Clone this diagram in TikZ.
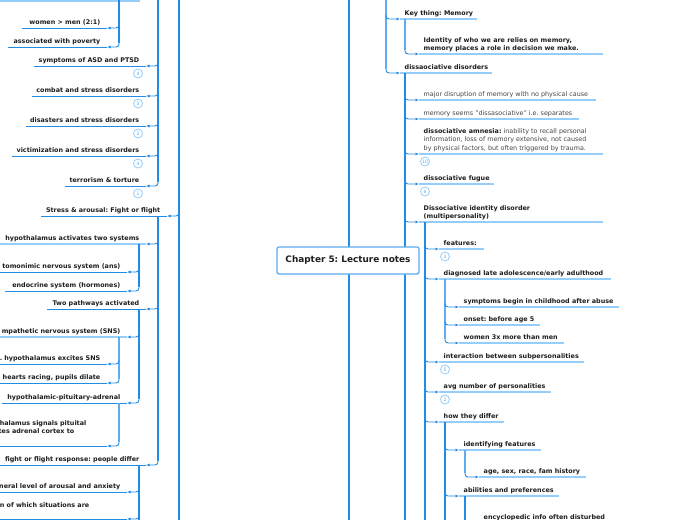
\documentclass[tikz,border=0pt]{standalone}
\usepackage{fontspec}
\setmainfont{DejaVu Sans}
\frenchspacing
\usetikzlibrary{arrows.meta}
\definecolor{bl}{RGB}{33,140,232}
\definecolor{lb}{RGB}{150,205,250}
\definecolor{mb}{RGB}{95,172,240}
\definecolor{tx}{RGB}{30,30,30}
\definecolor{gt}{RGB}{70,70,70}
\tikzset{
 lt/.style={font=\fontsize{6.4}{8.2}\selectfont\bfseries, text=tx, inner sep=0pt},
 gtext/.style={font=\fontsize{6.4}{8.2}\selectfont, text=gt, inner sep=0pt},
 ul/.style={draw=bl, line width=1pt},
 ulr/.style={draw=lb, line width=1.2pt},
 ulthick/.style={draw=lb, line width=2.4pt},
 trunk/.style={draw=bl, line width=1.6pt},
 ltrunk/.style={draw=mb, line width=1.3pt},
 conn/.style={draw=bl, line width=0.9pt, rounded corners=3pt, -{Latex[length=3.5pt,width=3pt]}},
 badge/.style={circle, draw=lb, line width=0.8pt, minimum size=9pt, inner sep=0pt, text=mb, font=\fontsize{4.6}{4.6}\selectfont},
 rootbox/.style={draw=mb, line width=1.3pt, fill=white, rounded corners=2pt, minimum width=142pt, minimum height=27pt, inner sep=0pt, font=\fontsize{8.9}{10}\selectfont\bfseries, text=tx},
}
% name, trunk x, underline y, underline left end, underline style, text style, baseline y, text
\newcommand{\Lkid}[8]{%
  \coordinate (#1-t) at (#2,#3-4);
  \coordinate (#1-a) at (#2-12,#3);
  \coordinate (#1-u) at (#4,#3);
  \draw[#5] (#1-a) -- (#1-u);
  \draw[conn] (#1-t) |- (#1-a);
  \node[#6, anchor=base east] (#1) at (#2-18.5,#7) {#8};
}
% name, trunk x, underline y, underline right end, underline style, text style, baseline y, text
\newcommand{\Rkid}[8]{%
  \coordinate (#1-t) at (#2,#3-4);
  \coordinate (#1-a) at (#2+14,#3);
  \coordinate (#1-u) at (#4,#3);
  \draw[#5] (#1-a) -- (#1-u);
  \draw[conn] (#1-t) |- (#1-a);
  \node[#6, anchor=base west] (#1) at (#2+18.5,#7) {#8};
}
\begin{document}
\begin{tikzpicture}[x=1pt,y=-1pt]
\useasboundingbox (0,0) rectangle (697,520);
\clip (0,0) rectangle (697,520);
\fill[white] (0,0) rectangle (697,520);

% main trunks
\coordinate (TL0) at (179,-3); \coordinate (TL1) at (179,523);
\draw[trunk] (TL0) -- (TL1);
\coordinate (TC0) at (349,-3); \coordinate (TC1) at (349,523);
\draw[trunk] (TC0) -- (TC1);

% ---------------- LEFT ----------------
\coordinate (top0) at (0,1); \coordinate (top1) at (140,1);
\draw[ulthick] (top0) -- (top1);

\coordinate (A0) at (119,-3);
\draw[trunk] (A0) -- (119,43);
\Lkid{a1}{119}{28}{22}{ul}{lt}{24}{women > men (2:1)}
\Lkid{a2}{119}{47}{8}{ul}{lt}{43}{associated with poverty}

\coordinate (B0) at (158,-3);
\draw[trunk] (B0) -- (158,182);
\Lkid{b1}{158}{66}{34}{ul}{lt}{62}{symptoms of ASD and PTSD}
\Lkid{b2}{158}{96}{32}{ul}{lt}{92}{combat and stress disorders}
\Lkid{b3}{158}{126}{26}{ul}{lt}{122}{disasters and stress disorders}
\Lkid{b4}{158}{156}{12}{ul}{lt}{152}{victimization and stress disorders}
\Lkid{b5}{158}{186}{65}{ul}{lt}{182}{terrorism \& torture}
\node[badge] (bb1) at (138,73.5) {4};
\node[badge] (bb2) at (138,103.5) {3};
\node[badge] (bb3) at (138,133.5) {2};
\node[badge] (bb4) at (138,163.5) {4};
\node[badge] (bb5) at (138,193.5) {1};

\Lkid{c1}{179}{216}{41}{ul}{lt}{212}{Stress \& arousal: Fight or flight}

\coordinate (D0) at (158,216);
\draw[trunk] (D0) -- (158,461);
\Lkid{d1}{158}{244}{-2}{ulthick}{lt}{240}{hypothalamus activates two systems}
\Lkid{d2}{158}{309}{47}{ul}{lt}{305}{Two pathways activated}
\Lkid{d3}{158}{465}{-2}{ul}{lt}{461}{fight or flight response: people differ}

\coordinate (E0) at (139,244);
\draw[trunk] (E0) -- (139,287);
\Lkid{e1}{139}{272}{-2}{ul}{lt}{268}{tomonimic nervous system (ans)}
\Lkid{e2}{139}{291}{5}{ul}{lt}{287}{endocrine system (hormones)}

\coordinate (F0) at (139,309);
\draw[trunk] (F0) -- (139,399);
\Lkid{f1}{139}{337}{-2}{ulthick}{lt}{333}{mpathetic nervous system (SNS)}
\Lkid{f2}{139}{403}{2}{ul}{lt}{399}{hypothalamic-pituitary-adrenal}

\coordinate (G0) at (119,337);
\draw[ltrunk] (G0) -- (119,379);
\Lkid{g1}{119}{364}{-2}{ul}{lt}{360}{1. hypothalamus excites SNS}
\Lkid{g2}{119}{383}{-2}{ul}{lt}{379}{hearts racing, pupils dilate}

\coordinate (H0) at (119,403);
\draw[ltrunk] (H0) -- (119,442);
\Lkid{h1}{119}{446}{-2}{ul}{lt}{442}{}
\node[lt, anchor=base east] (h1a) at (86.5,425) {halamus signals pituital};
\node[lt, anchor=base east] (h1b) at (74.5,433) {tes adrenal cortex to};

\coordinate (I0) at (139,465); \coordinate (I1) at (139,523);
\draw[trunk] (I0) -- (I1);
\Lkid{i1}{139}{492}{-2}{ul}{lt}{488}{neral level of arousal and anxiety}
\Lkid{i2}{139}{519}{-2}{ul}{lt}{515}{}
\node[lt, anchor=base east] (i2a) at (89.5,507) {n of which situations are};

% ---------------- RIGHT ----------------
\coordinate (R0) at (386,-3);
\draw[ltrunk] (R0) -- (386,69);
\Rkid{r1}{386}{19}{477}{ulr}{lt}{15}{Key thing: Memory}
\Rkid{r2}{386}{73}{492}{ulr}{lt}{69}{dissaociative disorders}

\coordinate (S0) at (405,19);
\draw[ltrunk] (S0) -- (405,50);
\Rkid{s1}{405}{54}{603}{ulthick}{lt}{42.5}{Identity of who we are relies on memory,}
\node[lt, anchor=base west] (s1b) at (423.5,50.5) {memory places a role in decision we make.};

\coordinate (T0) at (405,73); \coordinate (T1) at (405,523);
\draw[trunk] (T0) -- (T1);
\Rkid{t1}{405}{100}{596}{ulr}{gtext}{96.5}{major disruption of memory with no physical cause}
\Rkid{t2}{405}{119}{579}{ulr}{gtext}{115}{memory seems "dissasociative" i.e. separates}
\Rkid{t3}{405}{154}{603}{ulr}{gtext}{133}{{\bfseries\color{tx}dissociative amnesia:} inability to recall personal}
\node[gtext, anchor=base west] (t3b) at (423.5,141.5) {information, loss of memory extensive, not caused};
\node[gtext, anchor=base west] (t3c) at (423.5,150) {by physical factors, but often triggered by trauma.};
\node[badge] (bt3) at (425,161.5) {10};
\Rkid{t4}{405}{184}{494}{ulr}{lt}{180}{dissociative fugue}
\node[badge] (bt4) at (425,191.5) {6};
\Rkid{t5}{405}{222}{603}{ulthick}{lt}{210}{Dissociative identity disorder}
\node[lt, anchor=base west] (t5b) at (423.5,218) {(multipersonality)};

\coordinate (U0) at (425,222); \coordinate (U1) at (425,523);
\draw[trunk] (U0) -- (U1);
\Rkid{u1}{425}{249}{484}{ulr}{lt}{245}{features:}
\node[badge] (bu1) at (445,256.5) {3};
\Rkid{u2}{425}{279}{611}{ulr}{lt}{275}{diagnosed late adolescence/early adulthood}
\Rkid{u3}{425}{362}{584}{ulr}{lt}{358}{interaction between subpersonalities}
\node[badge] (bu3) at (445,369.5) {5};
\Rkid{u4}{425}{392}{551}{ulr}{lt}{388}{avg number of personalities}
\node[badge] (bu4) at (445,399.5) {2};
\Rkid{u5}{425}{422}{504}{ulr}{lt}{418}{how they differ}

\coordinate (V0) at (445,279);
\draw[ltrunk] (V0) -- (445,339);
\Rkid{v1}{445}{307}{619}{ulthick}{lt}{303}{symptoms begin in childhood after abuse}
\Rkid{v2}{445}{325}{540}{ulr}{lt}{321}{onset: before age 5}
\Rkid{v3}{445}{343}{564}{ulr}{lt}{339}{women 3x more than men}

\coordinate (W0) at (445,422); \coordinate (W1) at (445,523);
\draw[trunk] (W0) -- (W1);
\Rkid{w1}{445}{450}{541}{ulthick}{lt}{446}{identifying features}
\Rkid{w2}{445}{496}{559}{ulthick}{lt}{492}{abilities and preferences}

\coordinate (X0) at (465,450);
\draw[ltrunk] (X0) -- (465,473);
\Rkid{x1}{465}{477}{586}{ulr}{lt}{473}{age, sex, race, fam history}

\coordinate (Y0) at (465,496); \coordinate (Y1) at (465,523);
\draw[trunk] (Y0) -- (Y1);
\Rkid{y1}{465}{526}{650}{ulr}{lt}{519}{encyclopedic info often disturbed}

% ---------------- ROOT ----------------
\node[rootbox] (root) at (348,260.5) {Chapter 5: Lecture notes};
\end{tikzpicture}
\end{document}
